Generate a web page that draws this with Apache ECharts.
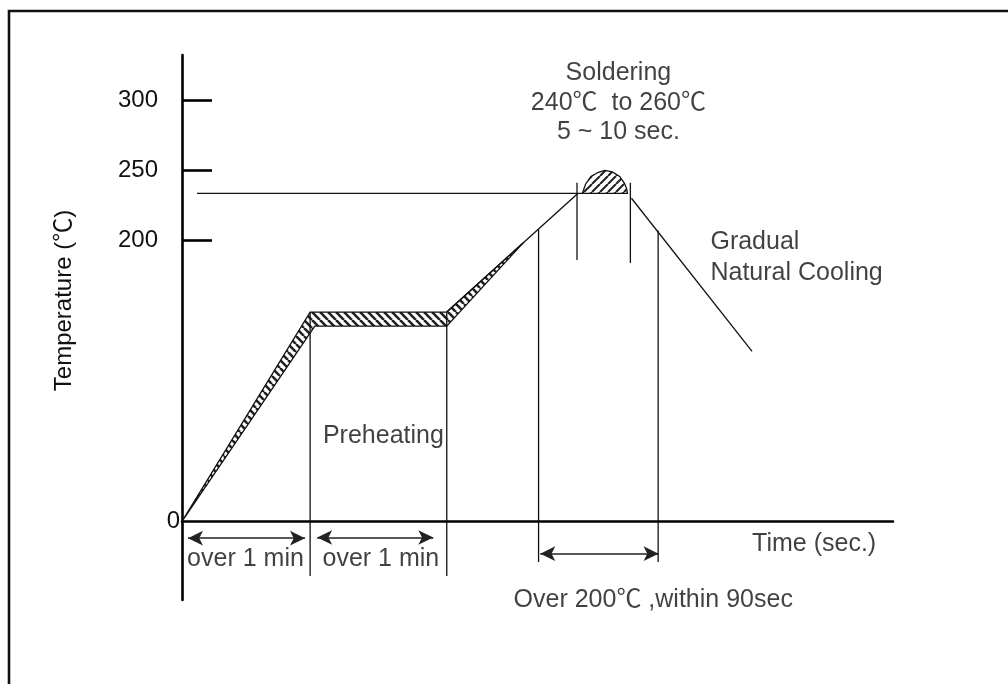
<!DOCTYPE html>
<html>
<head>
<meta charset="utf-8">
<script src="https://cdn.jsdelivr.net/npm/echarts@6/dist/echarts.min.js"></script>
<style>
  html, body { margin: 0; padding: 0; background: #fff; }
  #chart { width: 1008px; height: 684px; }
</style>
</head>
<body>
<div id="chart"></div>
<script>
// schematic reflow profile: x = time (sec, arbitrary scale), y = temperature (C)
const tempTicks = [200, 250, 300];
const tempLabels = [0, 200, 250, 300];

// hatched band along the preheat part of the curve
const bandUpper = [[0, 0], [60, 149], [124, 149], [160, 198.6]];
const bandLower = [[0, 0], [62.2, 139], [124, 139], [160, 198.6]];
const rampLine = [[124, 149], [185.5, 233.5]];
const peakDome = [[185.5, 233.5], [187.5, 233.5], [189, 240], [191.5, 245.5], [195, 248.5], [198, 249.8],
  [201.5, 248.8], [205, 245.5], [207.3, 240.5], [208.3, 236.5], [208.6, 233.5]];
const coolingLine = [[210.5, 230], [267, 121]];
const solderLevel = [[7, 233.5], [185.5, 233.5]];

const dropLines = [
  [[60, 149], [60, -39]],
  [[124, 149], [124, -39]],
  [[167, 208], [167, -29]],
  [[223, 207], [223, -29]],
  [[185, 241], [185, 186]],
  [[210, 241], [210, 184]]
];

const spanArrows = [
  [[2.8, -12], [57.6, -12]],
  [[63.3, -11.5], [117.7, -11.5]],
  [[167.8, -23], [223.2, -23]]
];

// [x, y, text, anchor]
const annotations = [
  [204.4, 319, 'Soldering', 'center'],
  [204.4, 298, '240\u2103  to 260\u2103', 'center'],
  [204.4, 277, '5 ~ 10 sec.', 'center'],
  [247.5, 198.5, 'Gradual', 'left'],
  [247.5, 177, 'Natural Cooling', 'left'],
  [66, 61, 'Preheating', 'left'],
  [2.4, -27, 'over 1 min', 'left'],
  [65.8, -27, 'over 1 min', 'left'],
  [267, -16, 'Time (sec.)', 'left'],
  [155.3, -56, 'Over 200\u2103 ,within 90sec', 'left']
];

const FONT = '"Liberation Sans", Arial, "Noto Sans CJK SC", sans-serif';
const INK = '#111';

function hatch(dir, size, width) {
  const c = document.createElement('canvas');
  c.width = size; c.height = size;
  const ctx = c.getContext('2d');
  ctx.strokeStyle = '#222';
  ctx.lineWidth = width;
  for (let k = -1; k <= 1; k++) {
    const x0 = k * size;
    ctx.beginPath();
    if (dir === '\\') { ctx.moveTo(x0, 0); ctx.lineTo(x0 + size, size); }
    else { ctx.moveTo(x0, size); ctx.lineTo(x0 + size, 0); }
    ctx.stroke();
  }
  return c;
}

const bandPattern = hatch('\\', 8, 2.6);
const domePattern = hatch('/', 8, 2);

function polygonSeries(points, pattern) {
  return {
    type: 'custom',
    silent: true,
    data: [0],
    renderItem: function (params, api) {
      return {
        type: 'polygon',
        shape: { points: points.map(p => api.coord(p)) },
        style: { fill: { image: pattern, repeat: 'repeat' }, stroke: INK, lineWidth: 1.3 }
      };
    }
  };
}

function lineSeries(data, width) {
  return {
    type: 'line', data: data, symbol: 'none', silent: true,
    lineStyle: { color: INK, width: width || 1.3 }
  };
}

const chart = echarts.init(document.getElementById('chart'));

const series = [
  polygonSeries(bandUpper.concat(bandLower.slice(1, -1).reverse()), bandPattern),
  polygonSeries(peakDome, domePattern),
  lineSeries(rampLine),
  lineSeries(coolingLine),
  lineSeries(solderLevel, 1.2)
];
dropLines.forEach(d => series.push(lineSeries(d, 1.3)));

series.push({
  type: 'line', data: [], symbol: 'none', silent: true,
  markLine: {
    silent: true,
    symbol: ['arrow', 'arrow'],
    symbolSize: [11, 15],
    label: { show: false },
    lineStyle: { color: '#222', width: 1.6, type: 'solid' },
    data: spanArrows.map(a => [{ coord: a[0] }, { coord: a[1] }])
  }
});

series.push({
  type: 'scatter', symbolSize: 0, silent: true, clip: false,
  data: annotations.map(a => ({
    value: [a[0], a[1]],
    label: {
      show: true,
      formatter: a[2],
      position: a[3] === 'left' ? 'right' : 'inside',
      distance: 0,
      color: '#111',
      fontSize: 25,
      fontFamily: FONT
    }
  }))
});

chart.setOption({
  backgroundColor: '#fff',
  animation: false,
  grid: { left: 182, right: 115, top: 55, bottom: 84, outerBoundsMode: 'none' },
  xAxis: {
    type: 'value', min: 0, max: 333,
    axisLine: { onZero: true, lineStyle: { color: '#000', width: 2.6 } },
    axisTick: { show: false },
    axisLabel: { show: false },
    splitLine: { show: false }
  },
  yAxis: {
    type: 'value', min: -56, max: 332,
    name: 'Temperature (\u2103)',
    nameLocation: 'middle',
    nameRotate: 90,
    nameGap: 106,
    nameTextStyle: { color: '#111', fontSize: 24, fontFamily: FONT, padding: [0, 0, 0, 54] },
    axisLine: { lineStyle: { color: '#000', width: 2.6 } },
    axisTick: {
      show: true, inside: true, length: 30, customValues: tempTicks,
      lineStyle: { color: '#000', width: 2.6 }
    },
    axisLabel: {
      customValues: tempLabels,
      margin: 2,
      color: '#111',
      fontSize: 24,
      fontFamily: FONT,
      formatter: v => (v === 0 ? '{z|0}' : '{n|' + v + '}'),
      rich: {
        z: { fontSize: 24, fontFamily: FONT, color: '#111' },
        n: { fontSize: 24, fontFamily: FONT, color: '#111', padding: [0, 22, 0, 0] }
      }
    },
    splitLine: { show: false }
  },
  graphic: [{
    type: 'rect', silent: true,
    shape: { x: 9, y: 11, width: 1040, height: 700 },
    style: { fill: 'none', stroke: '#111', lineWidth: 2.6 }
  }],
  series: series
});
</script>
</body>
</html>
